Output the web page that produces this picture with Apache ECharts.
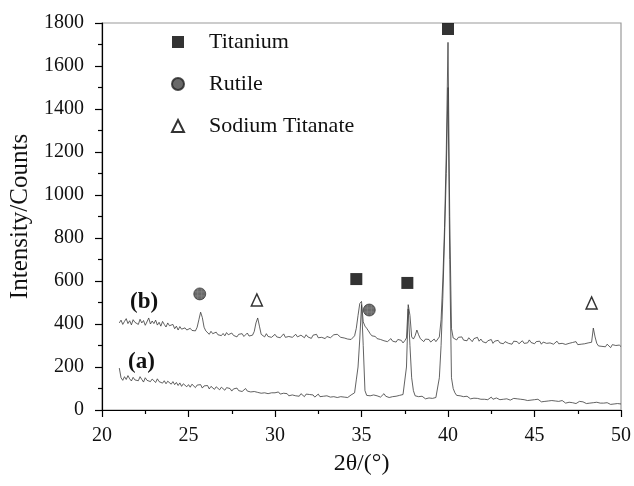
<!DOCTYPE html>
<html>
<head>
<meta charset="utf-8">
<script src="https://cdn.jsdelivr.net/npm/echarts@6/dist/echarts.min.js"></script>
<style>
  html, body { margin: 0; padding: 0; background: #fff; }
  #chart { width: 634px; height: 486px; }
</style>
</head>
<body>
<div id="chart"></div>
<script>
// 2theta sampling: 21.0 .. 50.0, step 0.1 (one row below = one degree)
const thetaStart = 21.0
const thetaStep = 0.1

// sample (b)
const countsB = [
  405, 418, 398, 412, 425, 402, 415, 396, 420, 408,
  412, 398, 422, 405, 416, 394, 410, 428, 400, 414,
  402, 418, 395, 408, 390, 412, 398, 386, 405, 392,
  384, 398, 378, 390, 372, 388, 376, 368, 382, 372,
  365, 380, 370, 376, 368, 385, 420, 455, 430, 385,
  368, 360, 352, 366, 355, 348, 362, 350, 358, 346,
  356, 345, 360, 350, 342, 358, 347, 354, 340, 352,
  345, 355, 342, 350, 358, 344, 352, 348, 365, 405,
  428, 390, 352, 345, 340, 355, 342, 350, 338, 346,
  352, 340, 348, 336, 345, 354, 338, 347, 342, 350,
  338, 346, 352, 340, 335, 348, 342, 336, 350, 340,
  345, 333, 348, 340, 352, 336, 344, 338, 346, 332,
  342, 348, 336, 344, 350, 358, 352, 345, 338, 342,
  335, 340, 330, 338, 328, 336, 345, 380, 440, 495,
  505, 410, 390, 380, 368, 355, 345, 338, 342, 332,
  336, 328, 334, 322, 330, 318, 326, 332, 320, 325,
  316, 328, 320, 324, 312, 322, 335, 490, 440, 340,
  330, 345, 372, 350, 332, 326, 318, 330, 322, 328,
  316, 325, 330, 318, 326, 340, 420, 600, 850, 1200,
  1710, 900, 380, 335, 342, 326, 338, 330, 340, 325,
  334, 322, 336, 328, 318, 332, 326, 338, 320, 330,
  318, 326, 312, 322, 316, 328, 310, 320, 314, 324,
  312, 320, 308, 318, 326, 310, 316, 306, 320, 312,
  318, 308, 316, 322, 310, 318, 312, 326, 314, 320,
  308, 318, 312, 320, 306, 316, 324, 310, 318, 312,
  316, 306, 314, 320, 308, 316, 310, 318, 305, 314,
  310, 302, 314, 308, 318, 304, 312, 306, 315, 308,
  302, 312, 306, 315, 381, 340, 310, 298, 306, 296,
  302, 294, 306, 298, 290, 304, 296, 300, 292, 302,
  295
]

// sample (a)
const countsA = [
  195, 150, 138, 155, 142, 160, 145, 135, 152, 140,
  148, 136, 155, 142, 130, 150, 138, 146, 132, 144,
  138, 128, 145, 132, 140, 125, 136, 122, 134, 128,
  120, 132, 118, 128, 114, 126, 110, 122, 116, 108,
  118, 106, 120, 112, 104, 116, 108, 118, 102, 112,
  105, 114, 98, 110, 102, 96, 108, 100, 94, 106,
  98, 92, 104, 95, 100, 88, 98, 92, 102, 90,
  96, 86, 94, 100, 88, 95, 84, 92, 86, 90,
  82, 90, 78, 86, 80, 88, 76, 84, 80, 74,
  80, 72, 84, 74, 68, 78, 70, 76, 66, 74,
  70, 78, 66, 72, 64, 76, 68, 62, 74, 66,
  72, 64, 70, 60, 68, 74, 62, 70, 64, 58,
  66, 72, 60, 68, 62, 70, 58, 66, 62, 68,
  60, 66, 58, 64, 70, 62, 80, 140, 200, 330,
  490, 300, 90, 68, 60, 66, 58, 70, 62, 66,
  72, 60, 68, 76, 64, 70, 58, 66, 62, 70,
  64, 58, 68, 62, 72, 78, 200, 470, 300, 150,
  90, 66, 58, 62, 55, 64, 58, 52, 60, 56,
  62, 54, 60, 58, 64, 150, 300, 520, 800, 1100,
  1500, 700, 150, 100, 80, 68, 60, 66, 58, 62,
  56, 64, 58, 52, 60, 55, 62, 54, 58, 50,
  56, 50, 58, 48, 54, 60, 50, 46, 56, 52,
  48, 55, 50, 44, 52, 58, 46, 50, 54, 48,
  52, 46, 50, 42, 48, 54, 44, 50, 46, 40,
  48, 42, 50, 44, 38, 46, 40, 48, 42, 36,
  44, 38, 42, 34, 40, 36, 44, 38, 32, 40,
  36, 42, 34, 38, 30, 36, 40, 32, 38, 34,
  30, 36, 32, 28, 34, 30, 36, 28, 32, 26,
  32, 28, 34, 30, 26, 32, 28, 24, 30, 28,
  28
]

// phase markers [2theta, counts]
const titaniumMarks = [[34.7, 609], [37.65, 591], [40.0, 1772]]
const rutileMarks = [[25.65, 540], [35.45, 465]]
const titanateMarks = [[28.95, 512], [48.3, 498]]

const serif = '"Liberation Serif", "Times New Roman", serif'

function toPairs(vals) {
  return vals.map((v, ii) => [+(thetaStart + ii * thetaStep).toFixed(1), v])
}

const chart = echarts.init(document.getElementById('chart'))

const option = {
  animation: false,
  backgroundColor: '#fff',
  grid: {
    left: 102, right: 12, top: 23, bottom: 76,
    show: true, borderColor: '#9a9a9a', borderWidth: 1.2,
  },
  legend: {
    data: ['Titanium', 'Rutile', 'Sodium Titanate'],
    orient: 'vertical',
    left: 171,
    top: 31,
    padding: 0,
    itemGap: 20,
    itemWidth: 12,
    itemHeight: 12,
    selectedMode: false,
    textStyle: {
      fontFamily: serif, fontSize: 22, color: '#111',
      lineHeight: 22, padding: [0, 0, 0, 20],
    },
  },
  xAxis: {
    type: 'value',
    min: 20, max: 50, interval: 5,
    name: '2θ/(°)',
    nameLocation: 'middle',
    nameGap: 42,
    nameTextStyle: { fontFamily: serif, fontSize: 24, color: '#111' },
    axisLine: { onZero: false, lineStyle: { color: '#000', width: 1.2 } },
    axisTick: { length: 7, lineStyle: { color: '#000', width: 1.2 } },
    minorTick: { show: true, splitNumber: 2, length: 4, lineStyle: { color: '#000', width: 1.2 } },
    axisLabel: { fontFamily: serif, fontSize: 20, color: '#111', margin: 16 },
    splitLine: { show: false },
  },
  yAxis: {
    type: 'value',
    min: 0, max: 1800, interval: 200,
    name: 'Intensity/Counts',
    nameLocation: 'middle',
    nameGap: 68,
    nameTextStyle: { fontFamily: serif, fontSize: 25, color: '#111' },
    axisLine: { show: true, lineStyle: { color: '#000', width: 1.2 } },
    axisTick: { show: true, length: 7, lineStyle: { color: '#000', width: 1.2 } },
    minorTick: { show: true, splitNumber: 2, length: 4, lineStyle: { color: '#000', width: 1.2 } },
    axisLabel: {
      fontFamily: serif, fontSize: 20, color: '#111', margin: 18,
      formatter: (val) => String(val),
    },
    splitLine: { show: false },
  },
  graphic: [
    { type: 'text', left: 130, top: 291, style: { text: '(b)', font: 'bold 23px ' + serif, fill: '#111' } },
    { type: 'text', left: 128, top: 351, style: { text: '(a)', font: 'bold 23px ' + serif, fill: '#111' } },
  ],
  series: [
    {
      name: 'b', type: 'line', data: toPairs(countsB),
      symbol: 'none', lineStyle: { color: '#3a3a3a', width: 0.8 },
    },
    {
      name: 'a', type: 'line', data: toPairs(countsA),
      symbol: 'none', lineStyle: { color: '#3a3a3a', width: 0.8 },
    },
    {
      name: 'Titanium', type: 'scatter', data: titaniumMarks, clip: false,
      symbol: 'rect', symbolSize: 12, z: 5,
      itemStyle: { color: '#000' },
    },
    {
      name: 'Rutile', type: 'scatter', data: rutileMarks, clip: false,
      symbol: 'circle', symbolSize: 12, z: 5,
      itemStyle: { color: '#444', borderColor: '#222', borderWidth: 0.8 },
    },
    {
      name: 'rutile-hatch', type: 'scatter', data: rutileMarks, clip: false,
      symbol: 'path://M1,4L11,4M1,8L11,8M4,1L4,11M8,1L8,11',
      symbolSize: 10, z: 6, silent: true,
      itemStyle: { color: 'none', borderColor: '#8a8a8a', borderWidth: 0.8 },
    },
    {
      name: 'Sodium Titanate', type: 'scatter', data: titanateMarks, clip: false,
      symbol: 'triangle', symbolSize: [11, 12], z: 5,
      itemStyle: { color: '#fff', borderColor: '#000', borderWidth: 1.5 },
    },
  ],
}

chart.setOption(option)
</script>
</body>
</html>
